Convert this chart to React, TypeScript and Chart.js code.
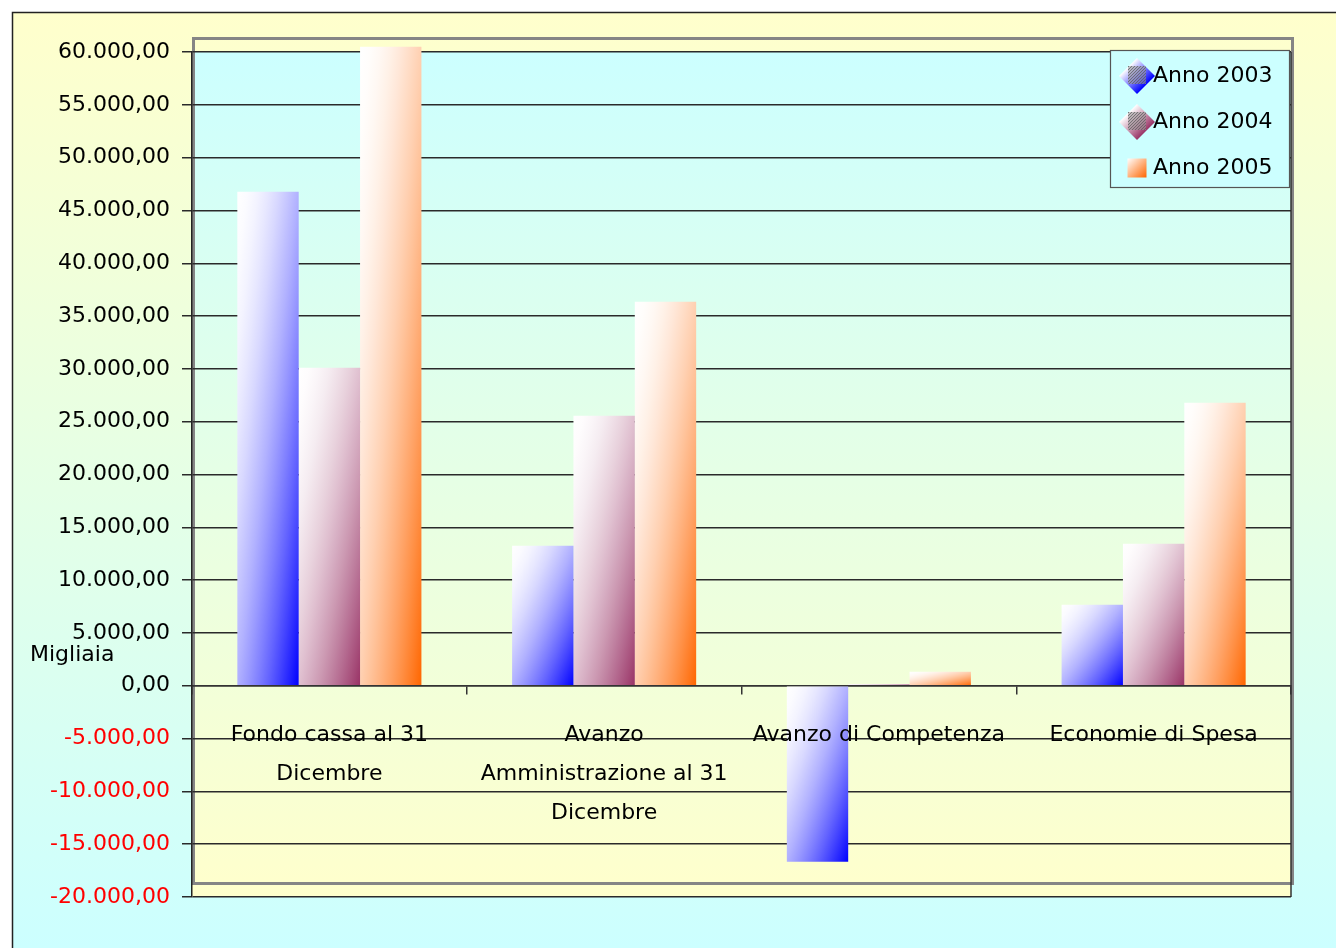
import React, { useEffect, useRef } from 'react';
import { Chart, registerables } from 'chart.js';

Chart.register(...registerables);

// ---- data ----
const categories: (string | string[])[] = [
  ['Fondo cassa al 31', 'Dicembre'],
  ['Avanzo', 'Amministrazione al 31', 'Dicembre'],
  'Avanzo di Competenza',
  'Economie di Spesa',
];
const anno2003 = [46770, 13250, -16660, 7670];
const anno2004 = [30100, 25560, 170, 13440];
const anno2005 = [60500, 36360, 1330, 26790];
const seriesLabels = ['Anno 2003', 'Anno 2004', 'Anno 2005'];
const seriesColors = ['#0000FF', '#993366', '#FF6600'];
const yMin = -20000;
const yMax = 60000;
const yStep = 5000;
const unitLabel = 'Migliaia';

const FONT = "'DejaVu Sans', Verdana, sans-serif";
const CAT_PCT = 0.67;
const GAMMA = 1.7;

function hexToRgb(hex: string) {
  const n = parseInt(hex.slice(1), 16);
  return [(n >> 16) & 255, (n >> 8) & 255, n & 255];
}
function mix(hex: string, t: number) {
  const [r, g, b] = hexToRgb(hex);
  const m = (c: number) => Math.round(255 + (c - 255) * t);
  return `rgb(${m(r)},${m(g)},${m(b)})`;
}

function diagGradient(ctx: CanvasRenderingContext2D, left: number, top: number, w: number, h: number, color: string) {
  w = Math.max(w, 1);
  h = Math.max(h, 1);
  const S = 1 / (4 * w * w) + 1 / (4 * h * h);
  const a = 1 / (2 * w * S);
  const b = 1 / (2 * h * S);
  const g = ctx.createLinearGradient(left, top, left + a, top + b);
  for (let i = 0; i <= 12; i++) {
    const t = i / 12;
    g.addColorStop(t, mix(color, Math.pow(t, GAMMA)));
  }
  return g;
}

function fmt(v: number) {
  const neg = v < 0;
  const s = Math.abs(v).toFixed(2);
  const [ip, dp] = s.split('.');
  const grouped = ip.replace(/\B(?=(\d{3})+(?!\d))/g, '.');
  return (neg ? '-' : '') + grouped + ',' + dp;
}

const bgPlugin = {
  id: 'bgPlugin',
  beforeDraw(chart: any) {
    const { ctx, width, height, chartArea } = chart;
    ctx.save();
    ctx.fillStyle = '#FFFFFF';
    ctx.fillRect(0, 0, width, height);
    // outer area
    const og = ctx.createLinearGradient(0, 12, 0, height);
    og.addColorStop(0, '#FFFFCC');
    og.addColorStop(1, '#CCFFFF');
    ctx.fillStyle = og;
    ctx.fillRect(12, 12, width, height);
    ctx.strokeStyle = '#222';
    ctx.lineWidth = 1.5;
    ctx.strokeRect(12.5, 12.5, width + 10, height + 10);
    // plot area
    const pg = ctx.createLinearGradient(0, chartArea.top, 0, chartArea.bottom);
    pg.addColorStop(0, '#CCFFFF');
    pg.addColorStop(1, '#FFFFCC');
    ctx.fillStyle = pg;
    ctx.fillRect(chartArea.left, chartArea.top, chartArea.right - chartArea.left, chartArea.bottom - chartArea.top);
    // gray wall frame
    ctx.strokeStyle = '#858585';
    ctx.lineWidth = 3;
    ctx.strokeRect(chartArea.left + 1.5, chartArea.top - 13.5, chartArea.right - chartArea.left, chartArea.bottom - chartArea.top);
    // right edge line
    ctx.strokeStyle = '#333';
    ctx.lineWidth = 1.5;
    ctx.beginPath();
    ctx.moveTo(chartArea.right, chartArea.top);
    ctx.lineTo(chartArea.right, chartArea.bottom);
    ctx.stroke();
    ctx.restore();
  },
  afterDraw(chart: any) {
    const { ctx, chartArea } = chart;
    ctx.save();
    // unit label
    ctx.font = `22px ${FONT}`;
    ctx.fillStyle = '#000';
    ctx.textAlign = 'left';
    ctx.textBaseline = 'middle';
    const zeroY = chart.scales.y.getPixelForValue(0);
    ctx.fillText(unitLabel, 30, zeroY - 30);
    // legend
    const lx = chartArea.right - 181;
    const ly = chartArea.top - 2;
    const lw = 179;
    const lh = 137;
    ctx.fillStyle = '#CCFFFF';
    ctx.fillRect(lx, ly, lw, lh);
    ctx.strokeStyle = '#555';
    ctx.lineWidth = 1.2;
    ctx.strokeRect(lx + 0.5, ly + 0.5, lw, lh);
    chart.data.datasets.forEach((ds: any, i: number) => {
      const cy = ly + 26 + i * 46;
      const cx = lx + 27;
      const color = seriesColors[i];
      if (i < 2) {
        const r = 18;
        const g = ctx.createLinearGradient(cx - r / 2, cy - r / 2, cx + r / 2, cy + r / 2);
        g.addColorStop(0, '#FFFFFF');
        g.addColorStop(1, color);
        ctx.fillStyle = g;
        ctx.beginPath();
        ctx.moveTo(cx, cy - r);
        ctx.lineTo(cx + r, cy);
        ctx.lineTo(cx, cy + r);
        ctx.lineTo(cx - r, cy);
        ctx.closePath();
        ctx.fill();
        // hatched square
        ctx.save();
        ctx.beginPath();
        ctx.rect(cx - 9, cy - 10, 18, 18);
        ctx.clip();
        ctx.fillStyle = 'rgba(150,150,150,0.55)';
        ctx.fillRect(cx - 9, cy - 10, 18, 18);
        ctx.strokeStyle = 'rgba(90,90,90,0.7)';
        ctx.lineWidth = 1;
        for (let k = -20; k < 20; k += 3) {
          ctx.beginPath();
          ctx.moveTo(cx - 9 + k, cy + 8);
          ctx.lineTo(cx - 9 + k + 18, cy - 10);
          ctx.stroke();
        }
        ctx.restore();
      } else {
        const s = 19;
        const g = ctx.createLinearGradient(cx - s / 2, cy - s / 2, cx + s / 2, cy + s / 2);
        g.addColorStop(0, '#FFFFFF');
        g.addColorStop(1, color);
        ctx.fillStyle = g;
        ctx.fillRect(cx - s / 2, cy - s / 2, s, s);
      }
      ctx.fillStyle = '#000';
      ctx.font = `22px ${FONT}`;
      ctx.textAlign = 'left';
      ctx.textBaseline = 'middle';
      ctx.fillText(ds.label, lx + 43, cy);
    });
    ctx.restore();
  },
};

function makeBg(color: string) {
  return (c: any) => {
    const chart = c.chart;
    const xs = chart.scales?.x;
    const ys = chart.scales?.y;
    if (!xs || !ys || c.type !== 'data' || !chart.chartArea) return color;
    const n = categories.length;
    const centre = xs.getPixelForValue(c.dataIndex);
    const catW = (xs.right - xs.left) / n;
    const groupW = catW * CAT_PCT;
    const barW = groupW / 3;
    const left = centre - groupW / 2 + c.datasetIndex * barW;
    const v = c.raw as number;
    const top = ys.getPixelForValue(Math.max(v, 0));
    const bottom = ys.getPixelForValue(Math.min(v, 0));
    return diagGradient(chart.ctx, left, top, barW, bottom - top, color);
  };
}

export default function App() {
  const ref = useRef<HTMLCanvasElement | null>(null);
  useEffect(() => {
    document.body.style.margin = '0';
    document.documentElement.style.overflow = 'hidden';
    const canvas = ref.current!;
    const seriesData = [anno2003, anno2004, anno2005];
    const chart = new Chart(canvas, {
      type: 'bar',
      data: {
        labels: categories as any,
        datasets: seriesData.map((d, i) => ({
          label: seriesLabels[i],
          data: d,
          backgroundColor: makeBg(seriesColors[i]),
          borderWidth: 0,
          categoryPercentage: CAT_PCT,
          barPercentage: 1,
          clip: false as any,
        })),
      },
      options: {
        animation: false,
        responsive: false,
        devicePixelRatio: 1,
        layout: { padding: { left: 0, top: 52, right: 45, bottom: 51 } },
        plugins: {
          legend: { display: false },
          tooltip: { enabled: false },
        },
        scales: {
          x: {
            type: 'category',
            position: { y: 0 } as any,
            offset: true,
            grid: {
              offset: true,
              drawOnChartArea: false,
              drawTicks: true,
              tickLength: 8,
              color: '#333',
              lineWidth: 1.5,
            },
            border: { display: true, color: '#333', width: 1.5 },
            ticks: {
              z: 1,
              color: '#000',
              font: { family: FONT, size: 22, lineHeight: 39 / 22 },
              padding: 22,
              maxRotation: 0,
              minRotation: 0,
              autoSkip: false,
            },
            afterFit: (s: any) => {
              s.height = 0;
            },
          },
          y: {
            type: 'linear',
            position: 'left',
            min: yMin,
            max: yMax,
            grid: {
              color: '#2a2a2a',
              lineWidth: 1.5,
              drawTicks: true,
              tickLength: 10,
            },
            border: { display: true, color: '#222', width: 1.5 },
            ticks: {
              stepSize: yStep,
              autoSkip: false,
              padding: 12,
              font: { family: FONT, size: 22 },
              color: (c: any) => (c.tick && c.tick.value < 0 ? '#FF0000' : '#000000'),
              callback: (v: any) => fmt(Number(v)),
            },
            afterFit: (s: any) => {
              s.width = 192;
            },
          },
        },
      },
      plugins: [bgPlugin],
    });
    return () => chart.destroy();
  }, []);
  return (
    <canvas
      ref={ref}
      width={1336}
      height={948}
      style={{ display: 'block', width: 1336, height: 948 }}
    />
  );
}
